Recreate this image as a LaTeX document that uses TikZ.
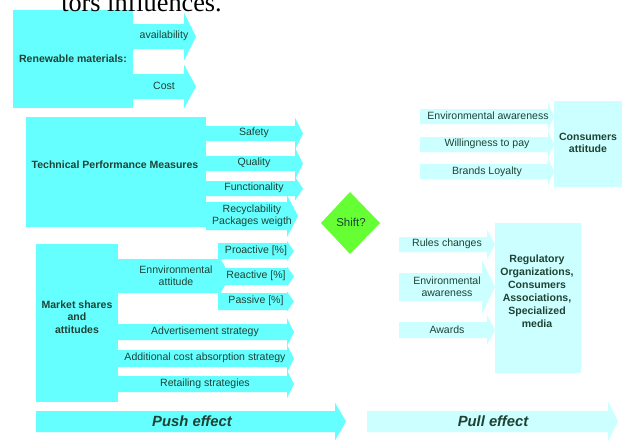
\documentclass[tikz,border=0pt]{standalone}
\usepackage{fontspec}
\setmainfont{Liberation Sans}
\newfontfamily\titleserif{Liberation Serif}
\definecolor{cyanA}{RGB}{102,255,255}
\definecolor{cyanB}{RGB}{204,255,255}
\definecolor{shiftgreen}{RGB}{102,255,51}
\definecolor{txt}{RGB}{30,66,52}
% block arrow: #1 colour, #2 x0, #3 head base x, #4 tip x, #5 y top, #6 y bottom, #7 head half height
\newcommand\blockarrow[7]{%
  \pgfmathsetmacro\bamid{(#5+#6)/2}%
  \fill[#1] (#2,#5) -- (#3,#5) -- (#3,\bamid-#7) -- (#4,\bamid) -- (#3,\bamid+#7) -- (#3,#6) -- (#2,#6) -- cycle;}
\tikzset{
  lbl/.style={text=txt, font=\fontsize{7.9}{9}\selectfont, align=center, inner sep=0pt},
  blbl/.style={lbl, font=\fontsize{7.9}{9.4}\selectfont\bfseries},
  big/.style={text=txt, font=\fontsize{11.1}{13}\selectfont\bfseries\itshape, inner sep=0pt}
}
\begin{document}
\begin{tikzpicture}[x=0.75pt,y=-0.75pt]
\useasboundingbox (0,0) rectangle (622,440);
\clip (0,0) rectangle (622,440);
\fill[white] (0,0) rectangle (622,440);

% Renewable materials
\fill[cyanA] (13,10) rectangle (133,108);
\blockarrow{cyanA}{133}{184}{196}{24}{49}{24}
\blockarrow{cyanA}{133}{184}{196}{74}{99}{22}
\node[blbl] (renew) at (73,59) {Renewable materials:};
\node[lbl] (avail) at (164,36) {availability};
\node[lbl] (cost) at (164,86) {Cost};

% Technical Performance Measures
\fill[cyanA] (26,117) rectangle (206,227);
\blockarrow{cyanA}{206}{295}{303}{126}{141}{16}
\blockarrow{cyanA}{206}{295}{303}{156}{171}{16}
\blockarrow{cyanA}{206}{295}{303}{181}{196}{12}
\blockarrow{cyanA}{206}{287}{298}{202}{230}{21}
\node[blbl] (tpm) at (115,165) {Technical Performance Measures};
\node[lbl] (safety) at (254,133) {Safety};
\node[lbl] (quality) at (254,163) {Quality};
\node[lbl] (func) at (254,188) {Functionality};
\node[lbl] (recyc) at (252,216) {Recyclability\\Packages weigth};

% Market shares
\fill[cyanA] (36,244) rectangle (118,402);
\blockarrow{cyanA}{118}{218}{230}{259}{293}{22}
\blockarrow{cyanA}{218}{287}{294}{243}{259}{10}
\blockarrow{cyanA}{218}{287}{294}{268}{285}{10}
\blockarrow{cyanA}{218}{287}{294}{293}{310}{10}
\blockarrow{cyanA}{118}{287}{294}{324}{340}{14}
\blockarrow{cyanA}{118}{287}{294}{350}{367}{14}
\blockarrow{cyanA}{118}{287}{294}{376}{392}{14}
\node[blbl] (market) at (77,317) {Market shares\\and\\attitudes};
\node[lbl] (envatt) at (176,276) {Ennvironmental\\attitude};
\node[lbl] (proact) at (256,251) {Proactive [\%]};
\node[lbl] (react) at (256,276) {Reactive [\%]};
\node[lbl] (passive) at (256,301) {Passive [\%]};
\node[lbl] (advert) at (205,332) {Advertisement strategy};
\node[lbl] (addcost) at (205,358) {Additional cost absorption strategy};
\node[lbl] (retail) at (205,384) {Retailing strategies};

% Push / Pull
\blockarrow{cyanA}{36}{335}{346}{411}{432}{19}
\node[big] (push) at (192,421) {Push effect};
\blockarrow{cyanB}{367}{608}{618}{411}{432}{20}
\node[big] (pull) at (493,421) {Pull effect};

% Shift diamond
\fill[shiftgreen] (321,223) -- (350,192) -- (380,223) -- (350,254) -- cycle;
\node[text=txt, font=\fontsize{8.6}{10}\selectfont, inner sep=0pt] (shift) at (351,222) {Shift?};

% Consumers attitude
\fill[cyanB] (554,101) rectangle (622,187);
\blockarrow{cyanB}{420}{548}{554}{109}{124}{14}
\blockarrow{cyanB}{420}{548}{554}{137}{152}{14}
\blockarrow{cyanB}{420}{548}{554}{164}{179}{14}
\node[blbl] (cons) at (588,143) {Consumers\\attitude};
\node[lbl] (envaw1) at (488,116) {Environmental awareness};
\node[lbl] (will) at (487,144) {Willingness to pay};
\node[lbl] (brand) at (487,172) {Brands Loyalty};

% Regulatory
\fill[cyanB] (495,223) rectangle (581,373);
\blockarrow{cyanB}{399}{487}{495}{237}{252}{15}
\blockarrow{cyanB}{399}{482}{495}{273}{301}{27}
\blockarrow{cyanB}{399}{487}{495}{322}{338}{15}
\node[blbl, font=\fontsize{7.9}{9.8}\selectfont\bfseries] (reg) at (537,291) {Regulatory\\Organizations,\\Consumers\\Associations,\\Specialized\\media};
\node[lbl] (rules) at (447,244) {Rules changes};
\node[lbl] (envaw2) at (447,287) {Environmental\\awareness};
\node[lbl] (awards) at (447,330) {Awards};

% cut-off title (drawn last, as in the reference)
\node[anchor=base west, inner sep=0pt, font=\titleserif\fontsize{19.7}{20}\selectfont] (title) at (61,11) {tors influences.};
\end{tikzpicture}
\end{document}
